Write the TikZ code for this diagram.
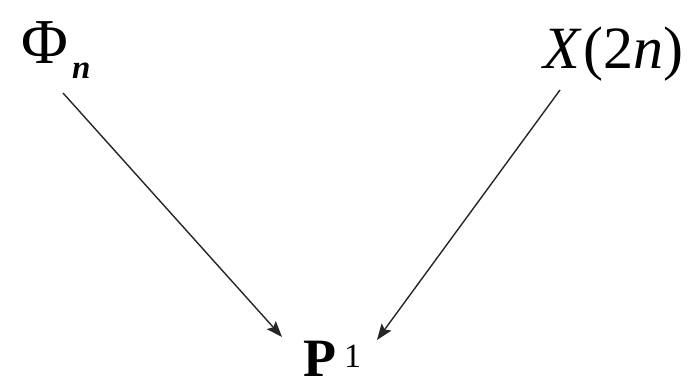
\documentclass[tikz,border=0pt]{standalone}
\usepackage{fontspec}
\setmainfont{Liberation Serif}
\usetikzlibrary{arrows.meta}
\begin{document}
\begin{tikzpicture}[x=1pt,y=-1pt,
  lbl/.style={inner sep=0pt,outer sep=0pt,anchor=base west,font=\fontsize{64}{70}\selectfont},
  arr/.style={line width=1.4pt,draw=black!85,-{Stealth[length=16pt,width=12pt,inset=3pt]}}]
\useasboundingbox (0,0) rectangle (689,389);
\node[lbl] (phi) at (21,63) {Φ};
\node[inner sep=0pt,anchor=base west,font=\fontsize{33}{36}\selectfont\bfseries\itshape] (phin) at (72,78) {n};
\node[lbl,font=\fontsize{60}{66}\selectfont] (X) at (543,68) {\itshape X\kern4pt\upshape(2\itshape n\upshape)};
\node[lbl,font=\fontsize{54}{60}\selectfont\bfseries] (P) at (303,376) {P};
\node[inner sep=0pt,anchor=base west,font=\fontsize{34}{36}\selectfont] (one) at (344,367) {1};
\coordinate (a1s) at (63,93);
\coordinate (a1e) at (282,337);
\coordinate (a2s) at (560,90);
\coordinate (a2e) at (377,340);
\draw[arr] (a1s) -- (a1e);
\draw[arr] (a2s) -- (a2e);
\end{tikzpicture}
\end{document}
